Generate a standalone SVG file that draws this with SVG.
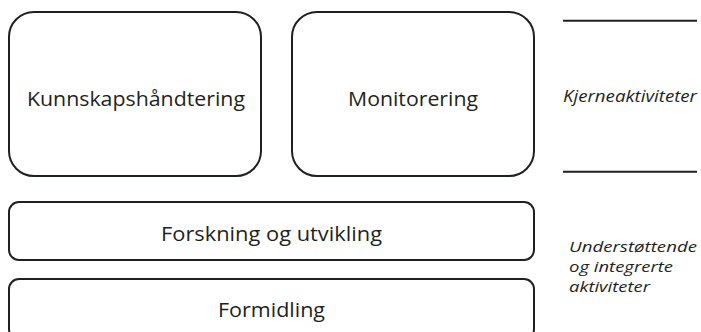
<svg xmlns="http://www.w3.org/2000/svg" width="701" height="332" viewBox="0 0 701 332">
<style>
.box{fill:#ffffff;stroke:#231f20;stroke-width:2}
.lbl{font-family:"Open Sans","Noto Sans","Liberation Sans",sans-serif;fill:#231f20;text-anchor:middle;font-size:20.5px}
.side{font-family:"Open Sans","Noto Sans","Liberation Sans",sans-serif;font-style:italic;fill:#231f20;font-size:16px}
.side2{font-family:"Open Sans","Noto Sans","Liberation Sans",sans-serif;font-style:italic;fill:#231f20;font-size:15px}
.rule{stroke:#231f20;stroke-width:2}
</style>
<rect width="701" height="332" fill="#ffffff"/>
<g id="kunnskap">
<rect class="box" x="9" y="12" width="252" height="164" rx="25" ry="25"/>
<text class="lbl" x="136" y="106" textLength="218" lengthAdjust="spacingAndGlyphs">Kunnskapshåndtering</text>
</g>
<g id="monitorering">
<rect class="box" x="292" y="12" width="242" height="164" rx="25" ry="25"/>
<text class="lbl" x="413" y="106" textLength="130" lengthAdjust="spacingAndGlyphs">Monitorering</text>
</g>
<g id="forskning">
<rect class="box" x="9" y="202" width="525" height="58" rx="10" ry="10"/>
<text class="lbl" x="271.5" y="241" textLength="221" lengthAdjust="spacingAndGlyphs">Forskning og utvikling</text>
</g>
<g id="formidling">
<rect class="box" x="9" y="279" width="525" height="60" rx="10" ry="10"/>
<text class="lbl" x="271.5" y="317" textLength="107" lengthAdjust="spacingAndGlyphs">Formidling</text>
</g>
<g id="kjerne">
<line class="rule" x1="563" y1="20.7" x2="697" y2="20.7"/>
<line class="rule" x1="563" y1="171.7" x2="697" y2="171.7"/>
<text class="side" x="563" y="101.5" textLength="134" lengthAdjust="spacingAndGlyphs">Kjerneaktiviteter</text>
</g>
<g id="understottende">
<text class="side2" x="569" y="251.5" textLength="128" lengthAdjust="spacingAndGlyphs">Understøttende</text>
<text class="side2" x="569" y="271.5" textLength="104" lengthAdjust="spacingAndGlyphs">og integrerte</text>
<text class="side2" x="569" y="291.5" textLength="81" lengthAdjust="spacingAndGlyphs">aktiviteter</text>
</g>
</svg>
